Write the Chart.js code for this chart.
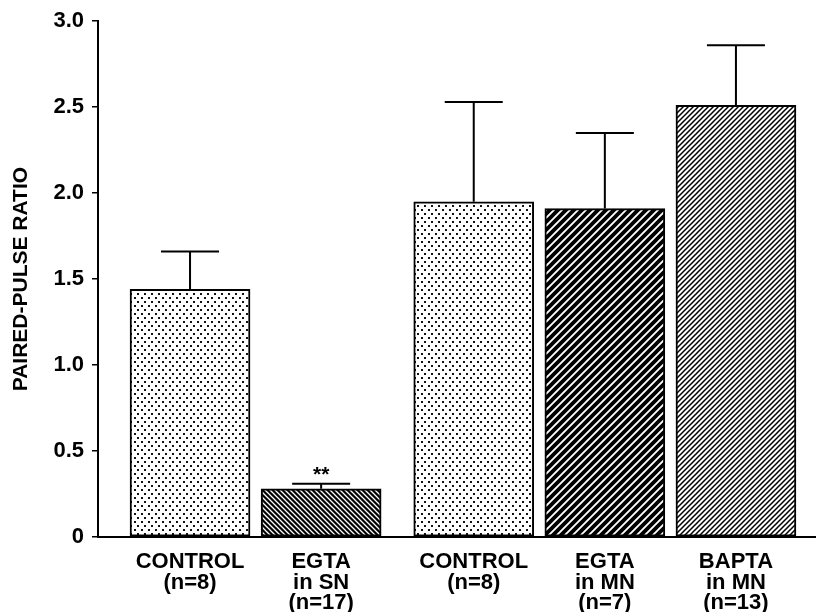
<!DOCTYPE html>
<html>
<head>
<meta charset="utf-8">
<script src="https://cdn.jsdelivr.net/npm/chart.js@4.4.1/dist/chart.umd.min.js"></script>
<style>
  html, body { margin: 0; padding: 0; background: #fff; }
  #wrap { width: 816px; height: 612px; }
</style>
</head>
<body>
<div id="wrap"><canvas id="grafico" width="816" height="612"></canvas></div>
<script>
// datos
var etiquetas = [
  ['CONTROL', '(n=8)'],
  ['EGTA', 'in SN', '(n=17)'],
  ['CONTROL', '(n=8)'],
  ['EGTA', 'in MN', '(n=7)'],
  ['BAPTA', 'in MN', '(n=13)']
];
var grupos = [0, 0, 1, 1, 1];          // SN / MN experiments
var ratios = [1.44, 0.28, 1.95, 1.91, 2.51];
var sem = [0.22, 0.03, 0.58, 0.44, 0.35];
var marcas = ['', '**', '', '', ''];
var ticksY = [0, 0.5, 1.0, 1.5, 2.0, 2.5, 3.0];

var FUENTE = '"Liberation Sans", Arial, Helvetica, sans-serif';
var SEP_GRUPO = 0.164; // extra space between the two experiment groups

// patrones de relleno
function patron(tam, dibujar) {
  var c = document.createElement('canvas');
  c.width = tam; c.height = tam;
  var g = c.getContext('2d');
  dibujar(g, tam);
  return g.createPattern(c, 'repeat');
}
function puntos() {
  var c = document.createElement('canvas');
  c.width = 7; c.height = 8;
  var g = c.getContext('2d');
  g.fillStyle = '#fff'; g.fillRect(0, 0, 7, 8);
  g.fillStyle = '#111';
  g.fillRect(1, 1, 2, 2);
  g.fillRect(4, 5, 2, 2);
  return g.createPattern(c, 'repeat');
}
function rayas(tam, ancho, fondo, tinta, sentido) {
  return patron(tam, function (g, s) {
    g.fillStyle = fondo; g.fillRect(0, 0, s, s);
    g.strokeStyle = tinta; g.lineWidth = ancho;
    g.beginPath();
    if (sentido === '/') {
      g.moveTo(-s, s); g.lineTo(s, -s);
      g.moveTo(0, s); g.lineTo(s, 0);
      g.moveTo(0, 2 * s); g.lineTo(2 * s, 0);
    } else {
      g.moveTo(-s, 0); g.lineTo(s, 2 * s);
      g.moveTo(0, 0); g.lineTo(s, s);
      g.moveTo(0, -s); g.lineTo(2 * s, s);
    }
    g.stroke();
  });
}
var rellenos = [
  puntos(),
  rayas(5, 1.3, '#000', '#fff', '\\'),
  puntos(),
  rayas(8, 3.8, '#fff', '#000', '/'),
  rayas(5, 1.5, '#fff', '#000', '/')
];

var posX = ratios.map(function (v, i) { return i + grupos[i] * SEP_GRUPO; });
var datos = ratios.map(function (v, i) { return { x: posX[i], y: v }; });

var barrasError = {
  id: 'barrasError',
  afterDatasetsDraw: function (chart) {
    var ctx = chart.ctx, y = chart.scales.y;
    var meta = chart.getDatasetMeta(0);
    ctx.save();
    ctx.strokeStyle = '#000';
    ctx.lineWidth = 2;
    meta.data.forEach(function (bar, i) {
      var yTop = y.getPixelForValue(ratios[i] + sem[i]);
      ctx.beginPath();
      ctx.moveTo(bar.x, bar.y);
      ctx.lineTo(bar.x, yTop);
      ctx.moveTo(bar.x - 29, yTop);
      ctx.lineTo(bar.x + 29, yTop);
      ctx.stroke();
      if (marcas[i]) {
        ctx.fillStyle = '#000';
        ctx.font = 'bold 21px ' + FUENTE;
        ctx.textAlign = 'center';
        ctx.textBaseline = 'bottom';
        ctx.fillText(marcas[i], bar.x, yTop + 2);
      }
    });
    ctx.restore();
  }
};

new Chart(document.getElementById('grafico').getContext('2d'), {
  type: 'bar',
  data: {
    datasets: [{
      data: datos,
      backgroundColor: rellenos,
      borderColor: '#000',
      borderWidth: 2,
      borderSkipped: false,
      barThickness: 120
    }]
  },
  options: {
    responsive: false,
    animation: false,
    events: [],
    layout: { padding: { top: 17, right: 1, left: 0, bottom: 0 } },
    plugins: { legend: { display: false }, tooltip: { enabled: false } },
    scales: {
      x: {
        type: 'linear',
        offset: false,
        min: -0.702,
        max: 4.767,
        grid: { display: false },
        border: { color: '#000', width: 2 },
        afterBuildTicks: function (scale) {
          scale.ticks = posX.map(function (v) { return { value: v }; });
        },
        afterFit: function (scale) { scale.height = 75; },
        ticks: {
          autoSkip: false,
          maxRotation: 0,
          padding: 7,
          color: '#000',
          font: { family: FUENTE, size: 22, weight: 'bold', lineHeight: 0.93 },
          callback: function (v, i) { return etiquetas[i]; }
        }
      },
      y: {
        min: 0,
        max: 3,
        afterBuildTicks: function (scale) {
          scale.ticks = ticksY.map(function (v) { return { value: v }; });
        },
        afterFit: function (scale) { scale.width = 98; },
        grid: { drawOnChartArea: false, drawTicks: true, tickLength: 6, color: '#000', lineWidth: 1.5 },
        border: { color: '#000', width: 2 },
        ticks: {
          padding: 8,
          color: '#000',
          font: { family: FUENTE, size: 22, weight: 'bold' },
          callback: function (v) { return v === 0 ? '0' : v.toFixed(1); }
        },
        title: {
          display: true,
          text: 'PAIRED-PULSE RATIO',
          color: '#000',
          font: { family: FUENTE, size: 21, weight: 'bold' },
          padding: { top: 9, bottom: 0 }
        }
      }
    }
  },
  plugins: [barrasError]
});
</script>
</body>
</html>
